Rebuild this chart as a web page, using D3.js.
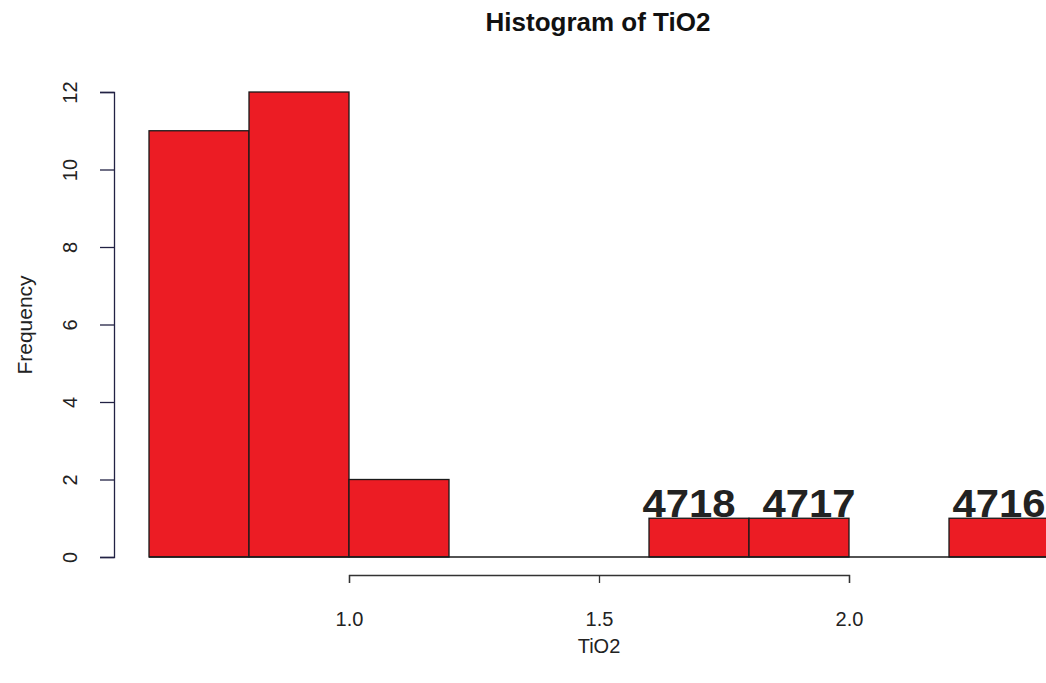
<!DOCTYPE html>
<html><head><meta charset="utf-8">
<script src="https://cdn.jsdelivr.net/npm/d3@7"></script>
<style>body{margin:0;background:#fff}svg{display:block}text{font-family:"Liberation Sans",Arial,sans-serif}</style>
</head><body>
<svg id="c" width="1046" height="683"></svg>
<script>
const binStarts = [0.6, 0.8, 1.0, 1.2, 1.4, 1.6, 1.8, 2.0, 2.2];
const binWidth = 0.2;
const counts = [11, 12, 2, 0, 0, 1, 1, 0, 1];
// sample labels placed at their TiO2 values, just above count 1
const labelIds = ["4718", "4717", "4716"];
const labelTiO2 = [1.68, 1.92, 2.30];
const labelCount = [1, 1, 1];
const xTicks = [1.0, 1.5, 2.0];
const yTicks = [0, 2, 4, 6, 8, 10, 12];

const svg = d3.select("#c");
const x = d3.scaleLinear().domain([1.0, 2.0]).range([349, 849]);
const y = d3.scaleLinear().domain([0, 12]).range([557, 92]);

// bars
svg.append("g").selectAll("rect").data(binStarts).join("rect")
  .attr("x", (d) => x(d))
  .attr("width", (d) => x(d + binWidth) - x(d))
  .attr("y", (d, i) => y(counts[i]))
  .attr("height", (d, i) => y(0) - y(counts[i]))
  .attr("fill", "#ec1c24")
  .attr("stroke", "#1a1a1a")
  .attr("stroke-width", 1.3);

// baseline for zero bins
svg.append("line")
  .attr("x1", x(binStarts[0])).attr("x2", x(binStarts[binStarts.length-1] + binWidth))
  .attr("y1", y(0)).attr("y2", y(0))
  .attr("stroke", "#1a1a1a").attr("stroke-width", 1.3);

// sample labels
svg.append("g").selectAll("text").data(labelIds).join("text")
  .attr("transform", (d, i) => `translate(${x(labelTiO2[i])},${y(labelCount[i]) - 1}) scale(1.1,1)`)
  .attr("text-anchor", "middle")
  .attr("font-size", 38)
  .attr("font-weight", "bold")
  .attr("fill", "#222")
  .text((d) => d);

// x axis
const xa = svg.append("g").attr("transform", "translate(0,575)")
  .call(d3.axisBottom(x).tickValues(xTicks).tickFormat(d3.format(".1f")).tickSizeOuter(0).tickSize(8));
xa.select(".domain").attr("stroke", "#333").attr("stroke-width", 1.3);
xa.selectAll(".tick line").attr("stroke", "#333").attr("stroke-width", 1.3);
xa.selectAll(".tick text").remove();
xa.selectAll(".tick").append("text")
  .attr("y", 51)
  .attr("text-anchor", "middle")
  .attr("font-size", 20)
  .attr("fill", "#222")
  .attr("font-family", "Liberation Sans, Arial, sans-serif")
  .text(d3.format(".1f"));

// y axis
const ya = svg.append("g").attr("transform", "translate(114,0)")
  .call(d3.axisLeft(y).tickValues(yTicks).tickSizeOuter(0).tickSize(14));
ya.select(".domain").attr("stroke", "#222244").attr("stroke-width", 1.3);
ya.selectAll(".tick line").attr("stroke", "#222244").attr("stroke-width", 1.3);
ya.selectAll(".tick text").remove();
ya.selectAll(".tick").append("text")
  .attr("transform", "translate(-37,0) rotate(-90)")
  .attr("text-anchor", "middle")
  .attr("font-size", 20)
  .attr("fill", "#222")
  .attr("font-family", "Liberation Sans, Arial, sans-serif")
  .text((d) => d);

// titles
svg.append("text").attr("x", 598).attr("y", 31).attr("text-anchor", "middle")
  .attr("font-size", 26).attr("font-weight", "bold").attr("fill", "#111").text("Histogram of TiO2");
svg.append("text").attr("x", 599).attr("y", 653).attr("text-anchor", "middle")
  .attr("font-size", 20).attr("fill", "#222").text("TiO2");
svg.append("text").attr("transform", "translate(32,325) rotate(-90)").attr("text-anchor", "middle")
  .attr("font-size", 21).attr("fill", "#222").text("Frequency");
</script>
</body></html>
